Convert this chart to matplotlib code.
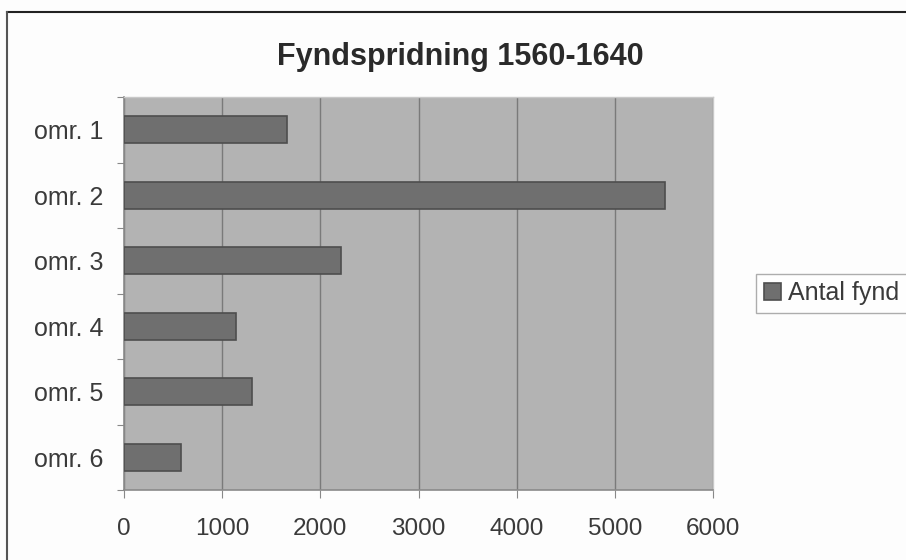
import matplotlib
matplotlib.use("Agg")
import matplotlib.pyplot as plt
from matplotlib.lines import Line2D
import numpy as np

categories = ["omr. 1", "omr. 2", "omr. 3", "omr. 4", "omr. 5", "omr. 6"]
values = [1660, 5510, 2210, 1140, 1300, 580]
xticks = [0, 1000, 2000, 3000, 4000, 5000, 6000]
series_name = "Antal fynd"
title = "Fyndspridning 1560-1640"

plt.rcParams['font.family'] = ['Liberation Sans', 'DejaVu Sans']

W, H = 906, 560
fig = plt.figure(figsize=(W / 100, H / 100), dpi=100, facecolor="#fdfdfd")
ax = fig.add_axes([124 / W, 1 - 490 / H, (713 - 124) / W, (490 - 97) / H])
ax.set_facecolor("#b3b3b3")

y = np.arange(len(categories))
ax.barh(y, values, height=0.41, color="#6f6f6f", edgecolor="#4e4e4e",
        linewidth=1.2, zorder=3, label=series_name)

ax.set_xlim(0, 6000)
ax.set_ylim(len(categories) - 0.5, -0.5)
ax.set_xticks(xticks)
ax.set_xticklabels([str(v) for v in xticks], fontsize=17.5, color="#3a3a3a")
ax.grid(axis="x", color="#7a7a7a", linewidth=1.0, zorder=1)

# tick marks at category boundaries, labels at centres
ax.set_yticks(np.arange(len(categories) + 1) - 0.5)
ax.set_yticklabels([""] * (len(categories) + 1))
ax.set_yticks(y, categories, minor=True)
ax.tick_params(axis="y", which="minor", length=0, pad=15, labelsize=18,
               labelcolor="#3a3a3a")
ax.tick_params(axis="y", which="major", length=5, color="#888888")
ax.tick_params(axis="x", length=6, color="#888888", pad=14)

for s in ["left", "bottom"]:
    ax.spines[s].set_color("#8a8a8a")
    ax.spines[s].set_linewidth(1.2)
for s in ["top", "right"]:
    ax.spines[s].set_color("#c8c8c8")
    ax.spines[s].set_linewidth(1.0)

fig.text(460 / W, 1 - 57 / H, title, ha="center", va="center",
         fontsize=22, fontweight="bold", color="#2a2a2a")

handles, labels = ax.get_legend_handles_labels()
leg = fig.legend(handles, labels, loc="center left",
                 bbox_to_anchor=(756 / W, 1 - 293 / H), fontsize=18,
                 frameon=True, fancybox=False, edgecolor="#999999",
                 handlelength=0.7, handleheight=0.7, handletextpad=0.3,
                 borderpad=0.3, borderaxespad=0)
leg.get_frame().set_linewidth(1.0)
for t in leg.get_texts():
    t.set_color("#3a3a3a")

# outer frame lines (top and left)
fig.add_artist(Line2D([7 / W, 1], [1 - 12 / H, 1 - 12 / H],
                      transform=fig.transFigure, color="#222222", linewidth=1.5))
fig.add_artist(Line2D([7 / W, 7 / W], [0, 1 - 12 / H],
                      transform=fig.transFigure, color="#555555", linewidth=1.5))

fig.savefig("out.png", dpi=100, facecolor=fig.get_facecolor())
